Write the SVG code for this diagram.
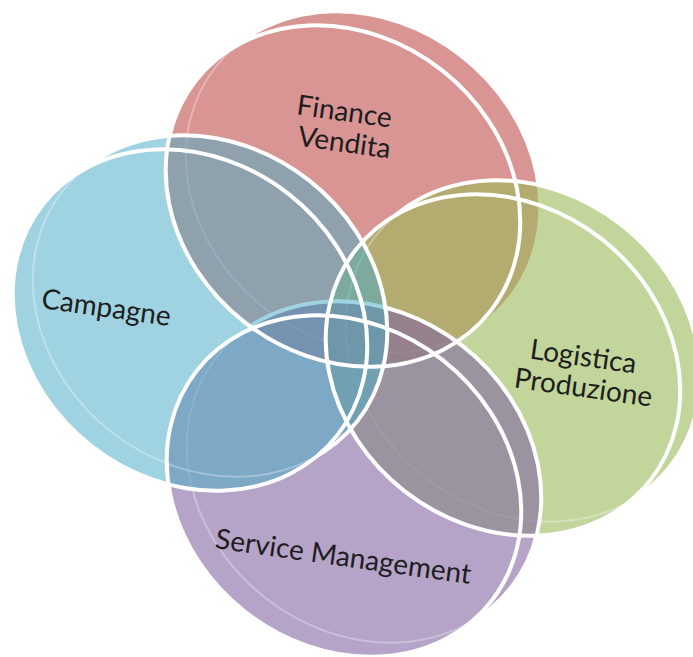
<svg xmlns="http://www.w3.org/2000/svg" xmlns:xlink="http://www.w3.org/1999/xlink" width="693" height="657" viewBox="0 0 693 657">
<style>
.rim{fill:none;stroke:#ffffff;stroke-width:4}
.back{fill:none;stroke:#ffffff;stroke-width:4}
.faint{fill:none;stroke:#ffffff;stroke-width:2;stroke-opacity:0.3}
.lbl{font-family:Lato,"Open Sans","Liberation Sans",sans-serif;font-size:28px;fill:#1e1e1e;text-anchor:middle}
</style>
<defs>
  <ellipse id="eP" cx="343" cy="196" rx="187" ry="160" transform="rotate(38 343 196)"/>
  <ellipse id="eG" cx="503" cy="365" rx="187" ry="160" transform="rotate(38 503 365)"/>
  <ellipse id="eU" cx="344" cy="486" rx="187" ry="160" transform="rotate(38 344 486)"/>
  <ellipse id="eB" cx="190" cy="320" rx="187" ry="160" transform="rotate(38 190 320)"/>
  <mask id="mP" maskUnits="userSpaceOnUse" x="0" y="0" width="693" height="657"><rect width="693" height="657" fill="#fff"/><use xlink:href="#eP" fill="#000"/></mask>
  <mask id="mG" maskUnits="userSpaceOnUse" x="0" y="0" width="693" height="657"><rect width="693" height="657" fill="#fff"/><use xlink:href="#eG" fill="#000"/></mask>
  <mask id="mU" maskUnits="userSpaceOnUse" x="0" y="0" width="693" height="657"><rect width="693" height="657" fill="#fff"/><use xlink:href="#eU" fill="#000"/></mask>
  <mask id="mB" maskUnits="userSpaceOnUse" x="0" y="0" width="693" height="657"><rect width="693" height="657" fill="#fff"/><use xlink:href="#eB" fill="#000"/></mask>
</defs>
<rect width="693" height="657" fill="#ffffff"/>

<g id="finance-vendita">
  <g opacity="0.6" fill="#C0504D">
    <use xlink:href="#eP" transform="translate(20,-14)"/>
    <use xlink:href="#eP"/>
  </g>
  <use xlink:href="#eP" class="faint" transform="translate(20,-14)"/>
  <g mask="url(#mP)"><use xlink:href="#eP" class="back" transform="translate(20,-14)"/></g>
</g>

<g id="logistica-produzione">
  <g opacity="0.6" fill="#9BBB59">
    <use xlink:href="#eG" transform="translate(20,-14)"/>
    <use xlink:href="#eG"/>
  </g>
  <use xlink:href="#eG" class="faint" transform="translate(20,-14)"/>
  <g mask="url(#mG)"><use xlink:href="#eG" class="back" transform="translate(20,-14)"/></g>
</g>

<g id="service-management">
  <g opacity="0.58" fill="#8064A2">
    <use xlink:href="#eU" transform="translate(20,-14)"/>
    <use xlink:href="#eU"/>
  </g>
  <use xlink:href="#eU" class="faint" transform="translate(20,-14)"/>
  <g mask="url(#mU)"><use xlink:href="#eU" class="back" transform="translate(20,-14)"/></g>
</g>

<g id="campagne">
  <g opacity="0.52" fill="#4BACC6">
    <use xlink:href="#eB" transform="translate(20,-14)"/>
    <use xlink:href="#eB"/>
  </g>
  <use xlink:href="#eB" class="faint" transform="translate(20,-14)"/>
  <g mask="url(#mB)"><use xlink:href="#eB" class="back" transform="translate(20,-14)"/></g>
</g>

<g id="rims">
  <use xlink:href="#eP" class="rim"/>
  <use xlink:href="#eG" class="rim"/>
  <use xlink:href="#eU" class="rim"/>
  <use xlink:href="#eB" class="rim"/>
</g>

<g id="labels">
  <text class="lbl" x="343" y="121" transform="rotate(8 343 121)">Finance</text>
  <text class="lbl" x="343" y="152" transform="rotate(8 343 152)">Vendita</text>
  <text class="lbl" x="105" y="317" transform="rotate(8 105 317)">Campagne</text>
  <text class="lbl" x="582" y="366" transform="rotate(8 582 366)">Logistica</text>
  <text class="lbl" x="582" y="397" transform="rotate(8 582 397)">Produzione</text>
  <text class="lbl" x="342" y="566" transform="rotate(8 342 566)">Service Management</text>
</g>
</svg>
